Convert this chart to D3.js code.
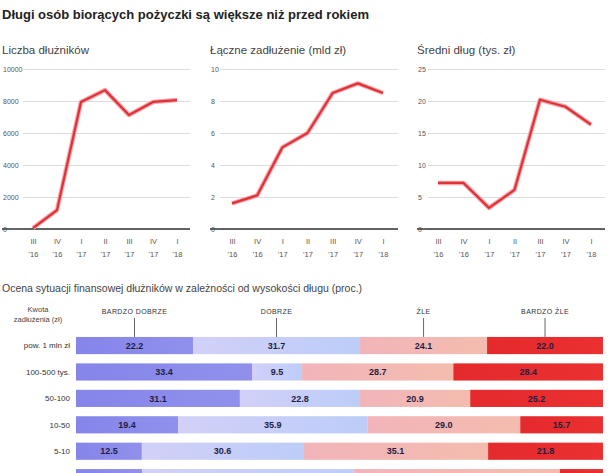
<!DOCTYPE html>
<html>
<head>
<meta charset="utf-8">
<script src="https://cdn.jsdelivr.net/npm/d3@7"></script>
<style>
  body { margin: 0; background: #fff; }
  svg { font-family: "Liberation Sans", Arial, sans-serif; display: block; }
  .grid line { stroke: #dcdcdc; stroke-width: 1; }
  .grid text { fill: #555; font-size: 7px; }
  .xax text { fill: #555; font-size: 7.5px; }
</style>
</head>
<body>
<svg id="chart"></svg>
<script>
// quarters on the x axis (two lines each)
const quarterTop = ["III", "IV", "I", "II", "III", "IV", "I"];
const quarterYear = ["'16", "'16", "'17", "'17", "'17", "'17", "'18"];

// line series
const debtors = [60, 1180, 7940, 8680, 7120, 7940, 8060];
const debtTotal = [1.6, 2.1, 5.1, 6.0, 8.5, 9.1, 8.5];
const debtAvg = [7.2, 7.2, 3.3, 6.1, 20.2, 19.1, 16.3];

const debtorsTicks = [0, 2000, 4000, 6000, 8000, 10000];
const totalTicks = [0, 2, 4, 6, 8, 10];
const avgTicks = [0, 5, 10, 15, 20, 25];

// bottom stacked bars
const groups = ["pow. 1 mln zł", "100-500 tys.", "50-100", "10-50", "5-10", "do 5"];
const answers = ["BARDZO DOBRZE", "DOBRZE", "ŹLE", "BARDZO ŹLE"];
const veryGood = [22.2, 33.4, 31.1, 19.4, 12.5, 12.6];
const good = [31.7, 9.5, 22.8, 35.9, 30.6, 40.1];
const bad = [24.1, 28.7, 20.9, 29.0, 35.1, 39.1];
const veryBad = [22.0, 28.4, 25.2, 15.7, 21.8, 8.2];

const width = 615, height = 473;
const svg = d3.select("#chart").attr("width", width).attr("height", height);

svg.append("text")
  .attr("x", 2).attr("y", 19)
  .attr("font-size", 13).attr("font-weight", "bold").attr("fill", "#222")
  .text("Długi osób biorących pożyczki są większe niż przed rokiem");

const panels = [
  { title: "Liczba dłużników", values: debtors, ticks: debtorsTicks,
    px0: 2, gx0: 23, gx1: 190, xr: [33, 177] },
  { title: "Łączne zadłużenie (mld zł)", values: debtTotal, ticks: totalTicks,
    px0: 210, gx0: 220, gx1: 398, xr: [232, 383] },
  { title: "Średni dług (tys. zł)", values: debtAvg, ticks: avgTicks,
    px0: 417, gx0: 428, gx1: 605, xr: [438, 591] }
];

const yTop = 69, yBottom = 229;

panels.forEach(p => {
  const g = svg.append("g");

  g.append("text")
    .attr("x", p.px0).attr("y", 54)
    .attr("font-size", 11.5).attr("fill", "#444")
    .text(p.title);

  const x = d3.scalePoint().domain(d3.range(p.values.length)).range(p.xr);
  const y = d3.scaleLinear()
    .domain([0, d3.max(p.ticks)])
    .range([yBottom, yTop]);

  // gridlines + y labels
  const grid = g.append("g")
    .attr("class", "grid")
    .attr("transform", `translate(${p.gx0},0)`)
    .call(d3.axisLeft(y).tickValues(p.ticks).tickFormat(d3.format("d"))
      .tickSize(-(p.gx1 - p.gx0)).tickPadding(2));
  grid.select(".domain").remove();
  grid.selectAll(".tick text")
    .attr("text-anchor", "start")
    .attr("x", p.px0 - p.gx0 + 1);

  // baseline
  g.append("line")
    .attr("x1", p.px0).attr("x2", p.gx1)
    .attr("y1", y(0)).attr("y2", y(0))
    .attr("stroke", "#333").attr("stroke-width", 1.6);

  // x labels
  const xa = g.append("g")
    .attr("class", "xax")
    .attr("transform", `translate(0,${yBottom + 5})`)
    .call(d3.axisBottom(x).tickSize(0).tickFormat(""));
  xa.select(".domain").remove();
  xa.selectAll(".tick text").each(function (d) {
    const t = d3.select(this);
    t.append("tspan").attr("x", 0).attr("dy", "0.9em").text(quarterTop[d]);
    t.append("tspan").attr("x", 0).attr("dy", "1.7em").text(quarterYear[d]);
  });

  const line = d3.line()
    .x((d, i) => x(i))
    .y(d => y(d));

  g.append("path")
    .datum(p.values)
    .attr("d", line)
    .attr("fill", "none")
    .attr("stroke", "#f4a5a8")
    .attr("stroke-width", 4.5)
    .attr("stroke-linejoin", "round");
  g.append("path")
    .datum(p.values)
    .attr("d", line)
    .attr("fill", "none")
    .attr("stroke", "#e0313a")
    .attr("stroke-width", 2.2)
    .attr("stroke-linejoin", "round");
});

// ----- bottom chart -----
svg.append("text")
  .attr("x", 2).attr("y", 292)
  .attr("font-size", 10.5).attr("fill", "#444")
  .text("Ocena sytuacji finansowej dłużników w zależności od wysokości długu (proc.)");

const rows = groups.map((gName, i) => {
  const vals = [veryGood[i], good[i], bad[i], veryBad[i]];
  let acc = 0;
  return {
    group: gName,
    segs: vals.map((v, k) => {
      const s = { key: k, v: v, x0: acc, x1: acc + v };
      acc += v;
      return s;
    })
  };
});

const xb = d3.scaleLinear().domain([0, 100]).range([76, 603]);
const yb = d3.scaleBand().domain(groups).range([333, 333 + 26.2 * groups.length])
  .paddingInner(0.35).paddingOuter(0.15);

const defs = svg.append("defs");
const grads = [
  ["#8585ea", "#9090ec"],
  ["#d2d0f8", "#bccdf8"],
  ["#f2b4ba", "#f4bcae"],
  ["#e42a2c", "#ea3030"]
];
grads.forEach((c, k) => {
  const lg = defs.append("linearGradient").attr("id", "seg" + k);
  lg.append("stop").attr("offset", "0%").attr("stop-color", c[0]);
  lg.append("stop").attr("offset", "100%").attr("stop-color", c[1]);
});

const rowG = svg.selectAll("g.row")
  .data(rows)
  .join("g")
  .attr("class", "row")
  .attr("transform", d => `translate(0,${yb(d.group)})`);

rowG.selectAll("rect")
  .data(d => d.segs)
  .join("rect")
  .attr("x", d => xb(d.x0))
  .attr("width", d => xb(d.x1) - xb(d.x0))
  .attr("height", yb.bandwidth())
  .attr("fill", d => `url(#seg${d.key})`);

rowG.selectAll("text.val")
  .data(d => d.segs)
  .join("text")
  .attr("class", "val")
  .attr("x", d => xb((d.x0 + d.x1) / 2))
  .attr("y", yb.bandwidth() / 2)
  .attr("dy", "0.35em")
  .attr("text-anchor", "middle")
  .attr("font-size", 9).attr("font-weight", "bold").attr("fill", "#1e1e44")
  .text(d => d3.format(".1f")(d.v));

svg.selectAll("text.grp")
  .data(groups)
  .join("text")
  .attr("class", "grp")
  .attr("x", 70)
  .attr("y", d => yb(d) + yb.bandwidth() / 2)
  .attr("dy", "0.35em")
  .attr("text-anchor", "end")
  .attr("font-size", 8).attr("fill", "#333")
  .text(d => d);

// column headers anchored at the centres of the first row
const first = rows[0].segs;
const hdr = svg.selectAll("g.hdr")
  .data(answers)
  .join("g")
  .attr("class", "hdr")
  .attr("transform", (d, k) => `translate(${xb((first[k].x0 + first[k].x1) / 2)},0)`);
hdr.append("text")
  .attr("y", 314)
  .attr("text-anchor", "middle")
  .attr("font-size", 7).attr("letter-spacing", 0.4).attr("fill", "#333")
  .text(d => d);
hdr.append("line")
  .attr("y1", 318).attr("y2", yb(groups[0]))
  .attr("stroke", "#666").attr("stroke-width", 1);

const lh = svg.append("text")
  .attr("x", 38).attr("text-anchor", "middle")
  .attr("font-size", 7.5).attr("fill", "#444");
lh.append("tspan").attr("x", 38).attr("y", 312).text("Kwota");
lh.append("tspan").attr("x", 38).attr("y", 322).text("zadłużenia (zł)");
</script>
</body>
</html>
